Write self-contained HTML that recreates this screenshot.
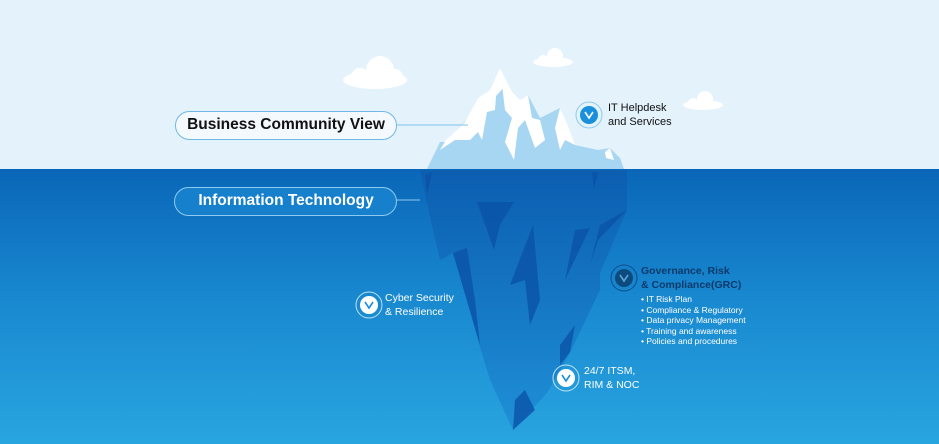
<!DOCTYPE html>
<html><head><meta charset="utf-8"><style>
html,body{margin:0;padding:0}
body{width:939px;height:444px;overflow:hidden;font-family:"Liberation Sans",sans-serif;position:relative}
svg{position:absolute;left:0;top:0}
.t{position:absolute;font-family:"Liberation Sans",sans-serif}
</style></head><body>
<svg width="939" height="444" viewBox="0 0 939 444">
<defs>
<linearGradient id="sea" x1="0" y1="0" x2="0" y2="1">
<stop offset="0" stop-color="#0a66b8"/><stop offset="0.45" stop-color="#1887cf"/><stop offset="1" stop-color="#29a5e0"/>
</linearGradient>
<linearGradient id="berg" x1="0" y1="0" x2="0" y2="1">
<stop offset="0" stop-color="#0c5db0"/><stop offset="1" stop-color="#1e8fd6"/>
</linearGradient>
</defs>
<rect width="939" height="170" fill="#e3f2fb"/>
<rect y="169" width="939" height="275" fill="url(#sea)"/>
<g fill="#fff">
<ellipse cx="375" cy="80" rx="32" ry="9"/><circle cx="380" cy="70" r="14"/><circle cx="360" cy="77" r="9"/><circle cx="395" cy="77" r="8"/>
<ellipse cx="553" cy="62" rx="20" ry="5"/><circle cx="555" cy="56" r="8"/><circle cx="543" cy="60" r="5"/>
<ellipse cx="703" cy="105" rx="20" ry="5"/><circle cx="705" cy="99" r="8"/><circle cx="693" cy="103" r="5"/>
</g>
<polygon fill="#a7d6f3" points="427,169 440,142 445,142 468,118 478,98 492,90 500,68 510,92 520,100 528,95 540,118 560,108 575,145 598,150 610,148 620,158 624,169"/>
<polygon fill="#ffffff" points="440,150 446,140 465,122 478,98 490,90 500,68 505,86 496,96 495,110 487,112 482,140 478,132 470,140 455,140"/>
<polygon fill="#ffffff" points="500,68 512,92 520,100 528,95 532,118 540,120 545,140 535,148 525,120 518,128 514,160 505,142 512,118 505,110"/>
<polygon fill="#ffffff" points="560,108 568,126 575,145 565,140 560,150 555,128"/>
<polygon fill="#ffffff" points="605,152 610,148 614,160 606,158"/>
<polygon fill="url(#berg)" opacity="0.95" points="420,170 627,170 627,210 600,273 600,290 587,317 570,353 547,393 513,430 490,380 480,347 453,253 440,260 430,217"/>
<g fill="#0a53a8" opacity="0.8">
<polygon points="477,202 514,202 500,225 494,250"/>
<polygon points="425,175 432,172 427,195"/>
<polygon points="592,172 598,172 594,190"/>
<polygon points="453,253 467,248 475,300 480,345"/>
<polygon points="533,225 540,300 530,325 525,280 510,285"/>
<polygon points="627,210 600,225 590,265 598,240"/>
<polygon points="575,230 590,228 565,280"/>
<polygon points="560,345 575,325 570,352 560,365"/>
<polygon points="515,400 525,390 535,410 513,430"/>
</g>
<line x1="397" y1="125" x2="468" y2="125" stroke="#7cc0ec" stroke-width="1"/>
<line x1="396" y1="200" x2="420" y2="200" stroke="#8fc8ee" stroke-width="1"/>
<rect x="175.5" y="111.5" width="221" height="28" rx="14" fill="#f3f9fd" stroke="#6fb8e8"/>
<rect x="174.5" y="187.5" width="222" height="28" rx="14" fill="#1680cc" stroke="#8ecaf0"/>
<g>
<circle cx="589" cy="115" r="13" fill="none" stroke="#8ccaf0"/><circle cx="589" cy="115" r="9" fill="#1a8fdc"/>
<circle cx="624" cy="278" r="13" fill="none" stroke="#0d4d8c"/><circle cx="624" cy="278" r="9" fill="#0d4a7e"/>
<circle cx="369" cy="305" r="13" fill="none" stroke="#bfe2f7"/><circle cx="369" cy="305" r="9" fill="#fff"/>
<circle cx="566" cy="378" r="13" fill="none" stroke="#bfe2f7"/><circle cx="566" cy="378" r="9" fill="#fff"/>
</g>
<g fill="none" stroke-width="1.6">
<polyline points="585,112 589,118 593,112" stroke="#fff"/>
<polyline points="620,275 624,281 628,275" stroke="#5aa6dc"/>
<polyline points="365,302 369,308 373,302" stroke="#1a8fdc"/>
<polyline points="562,375 566,381 570,375" stroke="#1a8fdc"/>
</g>
</svg>
<div class="t" style="left:175px;top:116px;width:222px;text-align:center;font-size:15.5px;font-weight:bold;color:#111">Business Community View</div>
<div class="t" style="left:175px;top:192px;width:222px;text-align:center;font-size:15.5px;font-weight:bold;color:#fff">Information Technology</div>
<div class="t" style="left:608px;top:101px;font-size:11px;line-height:14px;color:#111">IT Helpdesk<br>and Services</div>
<div class="t" style="left:641px;top:264px;font-size:10.5px;line-height:14px;color:#0b3a6a;font-weight:bold">Governance, Risk<br>&amp; Compliance(GRC)</div>
<div class="t" style="left:641px;top:294px;font-size:8.5px;line-height:10.6px;color:#fff">• IT Risk Plan<br>• Compliance &amp; Regulatory<br>• Data privacy Management<br>• Training and awareness<br>• Policies and procedures</div>
<div class="t" style="left:385px;top:291px;font-size:10.5px;line-height:14px;color:#fff">Cyber Security<br>&amp; Resilience</div>
<div class="t" style="left:584px;top:364px;font-size:10.5px;line-height:14px;color:#fff">24/7 ITSM,<br>RIM &amp; NOC</div>
</body></html>
